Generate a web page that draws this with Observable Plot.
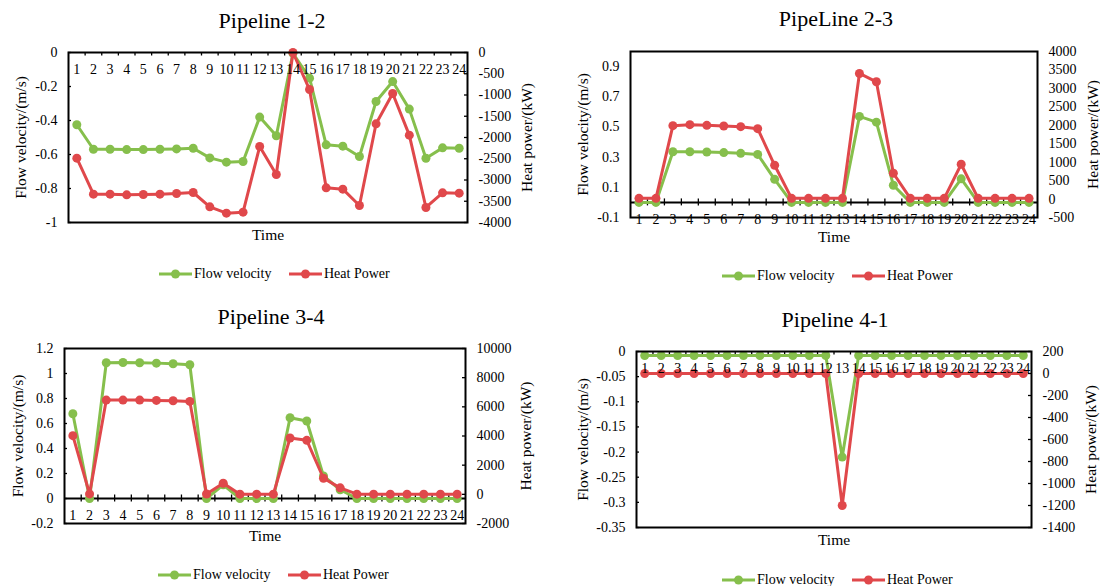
<!DOCTYPE html>
<html><head><meta charset="utf-8">
<script src="https://cdn.jsdelivr.net/npm/d3@7"></script>
<script src="https://cdn.jsdelivr.net/npm/@observablehq/plot@0.6"></script>
<style>
body{margin:0;background:#fff;}
#root{position:relative;width:1100px;height:586px;overflow:hidden;font-family:'Liberation Serif','Times New Roman',serif;color:#000;background:#fff;}
.plot{position:absolute;}
.title{position:absolute;font-size:22px;text-align:center;width:300px;white-space:nowrap;line-height:22px;}
.leg{position:absolute;font-size:14px;white-space:nowrap;line-height:14px;display:flex;align-items:center;}
.leg svg{display:block;}
</style></head><body><div id="root"></div>
<script>
const hours = [1,2,3,4,5,6,7,8,9,10,11,12,13,14,15,16,17,18,19,20,21,22,23,24];

const p12Velocity = [-0.425,-0.569,-0.569,-0.571,-0.571,-0.569,-0.567,-0.563,-0.62,-0.645,-0.641,-0.38,-0.49,-0.005,-0.151,-0.543,-0.551,-0.612,-0.288,-0.171,-0.333,-0.622,-0.561,-0.563];
const p12Heat = [-2486,-3333,-3333,-3349,-3341,-3333,-3318,-3294,-3631,-3780,-3757,-2212,-2871,0,-871,-3184,-3216,-3600,-1678,-965,-1945,-3647,-3302,-3310];

const p23Velocity = [0,0,0.336,0.336,0.334,0.330,0.325,0.318,0.153,0,0,0,0,0.570,0.532,0.114,0,0,0,0.156,0,0,0,0];
const p23Heat = [20,20,1989,2016,1998,1980,1962,1908,916,20,20,20,20,3405,3179,699,20,20,20,943,20,20,20,20];

const p34Velocity = [0.678,0,1.086,1.088,1.086,1.083,1.078,1.070,0,0.11,0,0,0,0.646,0.620,0.18,0.07,0,0,0,0,0,0,0];
const p34Heat = [4024,30,6464,6464,6464,6442,6419,6373,20,762,10,10,10,3864,3704,1104,443,10,10,10,10,10,10,10];

const p41Velocity = [-0.008,-0.008,-0.008,-0.008,-0.008,-0.008,-0.008,-0.008,-0.008,-0.008,-0.008,-0.008,-0.21,-0.008,-0.008,-0.008,-0.008,-0.008,-0.008,-0.008,-0.008,-0.008,-0.008,-0.008];
const p41Heat = [0,0,0,0,0,0,0,0,0,0,0,0,-1200,0,0,0,0,0,0,0,0,0,0,0];

const p12VelTicks = [0,-0.2,-0.4,-0.6,-0.8,-1];
const p12HeatTicks = [0,-500,-1000,-1500,-2000,-2500,-3000,-3500,-4000];
const p23VelTicks = [-0.1,0.1,0.3,0.5,0.7,0.9];
const p23HeatTicks = [-500,0,500,1000,1500,2000,2500,3000,3500,4000];
const p34VelTicks = [-0.2,0,0.2,0.4,0.6,0.8,1,1.2];
const p34HeatTicks = [-2000,0,2000,4000,6000,8000,10000];
const p41VelTicks = [0,-0.05,-0.1,-0.15,-0.2,-0.25,-0.3,-0.35];
const p41HeatTicks = [200,0,-200,-400,-600,-800,-1000,-1200,-1400];

const titles = ["Pipeline 1-2","PipeLine 2-3","Pipeline 3-4","Pipeline 4-1"];
const seriesNames = ["Flow velocity","Heat Power"];
const leftTitle = "Flow velocity/(m/s)";
const rightTitle = "Heat power/(kW)";
const xTitle = "Time";

const GREEN = "#86bf4c", RED = "#e0484b";
const FONT = "'Liberation Serif','Times New Roman',serif";
const root = document.getElementById("root");
const fmt = d => String(+(+d).toFixed(3));

function panel(c) {
  const [v0, v1] = c.vDomain, [h0, h1] = c.hDomain;
  const toV = h => v0 + (h - h0) * (v1 - v0) / (h1 - h0);
  const fromV = v => h0 + (v - v0) * (h1 - h0) / (v1 - v0);
  const rows = hours.map((t, i) => ({t, v: c.vel[i], hv: toV(c.heat[i])}));
  const marks = [];
  if (c.zeroLine) marks.push(Plot.ruleY([0], {stroke: "black", strokeWidth: 2}));
  marks.push(Plot.ruleX(hours.slice(0, -1).map(d => d + 0.5), {x: d => d, y1: 0, y2: 0, insetTop: -c.tickUp, insetBottom: -c.tickDown, stroke: "black", strokeWidth: 1.3}));
  if (c.yTicks) {
    marks.push(Plot.ruleY(c.vTicks, {y: d => d, x1: 0.5, x2: 0.5, insetRight: -3, stroke: "black", strokeWidth: 1.3}));
    marks.push(Plot.ruleY(c.hTicks.map(toV), {y: d => d, x1: 24.5, x2: 24.5, insetLeft: -3, stroke: "black", strokeWidth: 1.3}));
  }
  marks.push(
    Plot.line(rows, {x: "t", y: "v", stroke: GREEN, strokeWidth: 3}),
    Plot.dot(rows, {x: "t", y: "v", r: 4.5, fill: GREEN, stroke: null}),
    Plot.line(rows, {x: "t", y: "hv", stroke: RED, strokeWidth: 3}),
    Plot.dot(rows, {x: "t", y: "hv", r: 4.5, fill: RED, stroke: null}),
    Plot.frame({stroke: "black", strokeWidth: 2}),
    Plot.text(hours, {x: d => d, y: 0, dy: 17, text: d => String(d), fill: "black"}),
    Plot.axisY(c.vTicks, {anchor: "left", tickSize: 0, tickPadding: 11, tickFormat: fmt, label: null, fill: "black"}),
    Plot.axisY(c.hTicks.map(toV), {anchor: "right", tickSize: 0, tickPadding: 11, tickFormat: v => fmt(Math.round(fromV(v))), label: null, fill: "black"}),
    Plot.text([leftTitle], {frameAnchor: "left", text: d => d, rotate: -90, dx: -c.ltDx, textAnchor: "middle", lineAnchor: "middle", fontSize: 15.5, fill: "black"}),
    Plot.text([rightTitle], {frameAnchor: "right", text: d => d, rotate: -90, dx: c.rtDx, textAnchor: "middle", lineAnchor: "middle", fontSize: 15.5, fill: "black"}),
    Plot.text([xTitle], {frameAnchor: "bottom", text: d => d, dy: c.timeDy, textAnchor: "middle", lineAnchor: "middle", fontSize: 15.5, fill: "black"})
  );
  const svg = Plot.plot({
    width: 550, height: c.h,
    marginLeft: c.m[0], marginRight: c.m[1], marginTop: c.m[2], marginBottom: c.m[3],
    x: {type: "linear", domain: [0.5, 24.5], axis: null},
    y: {type: "linear", domain: c.vDomain, axis: null},
    style: {fontFamily: FONT, fontSize: "14px", color: "black", background: "transparent", overflow: "visible"},
    marks
  });
  svg.classList.add("plot");
  svg.style.left = c.ox + "px";
  svg.style.top = c.oy + "px";
  root.appendChild(svg);

  const t = document.createElement("div");
  t.className = "title";
  t.textContent = c.title;
  t.style.left = (c.ox + c.titleX - 150) + "px";
  t.style.top = (c.oy + c.titleY - 11) + "px";
  root.appendChild(t);

  [[GREEN, seriesNames[0], c.legG], [RED, seriesNames[1], c.legR]].forEach(([col, name, x]) => {
    const d = document.createElement("div");
    d.className = "leg";
    d.style.left = (c.ox + x) + "px";
    d.style.top = (c.oy + c.legY - 7) + "px";
    d.innerHTML = `<svg width="33" height="14"><line x1="0" y1="7" x2="33" y2="7" stroke="${col}" stroke-width="3"/><circle cx="16.5" cy="7" r="4.5" fill="${col}"/></svg><span style="margin-left:2px">${name}</span>`;
    root.appendChild(d);
  });
}

panel({ox: 0, oy: 0, h: 295, m: [68, 83, 52, 73], title: titles[0], titleX: 272, titleY: 21,
  vel: p12Velocity, heat: p12Heat, vDomain: [-1, 0], hDomain: [-4000, 0], vTicks: p12VelTicks, hTicks: p12HeatTicks,
  zeroLine: false, tickUp: 0, tickDown: 3.5, yTicks: true, ltDx: 47, rtDx: 59.5, timeDy: 12.6, legY: 274, legG: 159, legR: 289});
panel({ox: 550, oy: 0, h: 295, m: [80, 63, 51, 78], title: titles[1], titleX: 286, titleY: 19,
  vel: p23Velocity, heat: p23Heat, vDomain: [-0.1, 1.0], hDomain: [-500, 4000], vTicks: p23VelTicks, hTicks: p23HeatTicks,
  zeroLine: true, tickUp: 3.5, tickDown: 3.5, yTicks: false, ltDx: 47, rtDx: 55.5, timeDy: 19.3, legY: 276, legG: 172, legR: 302});
panel({ox: 0, oy: 295, h: 291, m: [64, 85, 53, 63], title: titles[2], titleX: 271, titleY: 22,
  vel: p34Velocity, heat: p34Heat, vDomain: [-0.2, 1.2], hDomain: [-2000, 10000], vTicks: p34VelTicks, hTicks: p34HeatTicks,
  zeroLine: true, tickUp: 3.5, tickDown: 3.5, yTicks: true, ltDx: 46.7, rtDx: 61, timeDy: 12.7, legY: 280, legG: 158, legR: 288});
panel({ox: 550, oy: 295, h: 291, m: [86, 69, 56, 59], title: titles[3], titleX: 285, titleY: 25,
  vel: p41Velocity, heat: p41Heat, vDomain: [-0.35, 0], hDomain: [-1400, 200], vTicks: p41VelTicks, hTicks: p41HeatTicks,
  zeroLine: false, tickUp: 0, tickDown: 3.5, yTicks: true, ltDx: 53.7, rtDx: 59.4, timeDy: 12.7, legY: 285, legG: 172, legR: 302});
</script>
</body></html>
